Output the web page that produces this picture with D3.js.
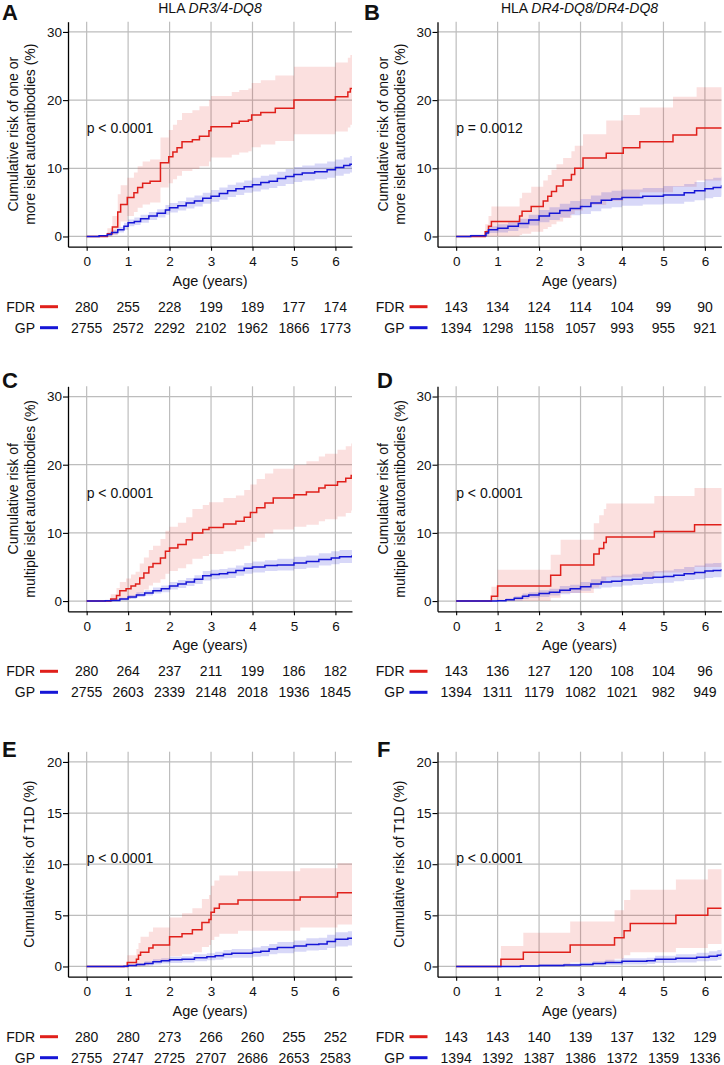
<!DOCTYPE html>
<html>
<head>
<meta charset="utf-8">
<script src="https://cdn.jsdelivr.net/npm/d3@7"></script>
<style>
  body { margin: 0; background: #fff; }
  text { font-family: "Liberation Sans", Arial, sans-serif; fill: #111; }
</style>
</head>
<body>
<div id="chart"></div>
<script>
// ---- data: rows are [age, estimate, lower CI, upper CI] (%)
var fdrA = [[0,0,0,0],[0.50,0.4,0,1.2],[0.62,1.4,0.2,3.0],[0.75,3.6,1.4,6.2],[0.82,4.7,2.2,7.5],[0.98,5.7,3.0,8.6],
  [1.14,6.4,3.6,9.4],[1.23,7.2,4.2,10.3],[1.35,7.8,4.7,11.0],[1.53,8.1,5.0,11.3],[1.78,10.8,7.2,14.5],[1.98,11.7,7.8,15.6],
  [2.08,12.4,8.4,16.4],[2.18,13.0,8.9,17.1],[2.30,13.9,9.6,18.1],[2.55,14.2,9.9,18.5],[2.72,14.7,10.3,19.1],[2.95,15.5,11.0,20.0],
  [3.00,16.1,11.6,20.6],[3.50,16.6,12.0,21.2],[3.68,16.9,12.3,21.5],[3.90,17.1,12.5,21.7],[3.98,17.8,13.1,22.5],[4.20,18.2,13.5,22.9],
  [4.55,18.8,14.0,23.6],[5.00,20.0,15.0,24.9],[6.00,20.5,15.4,25.5],[6.30,21.2,16.0,26.2],[6.36,21.7,16.4,26.6],[6.45,21.7,16.4,26.6]];
var gpA = [[0,0,0,0],[0.30,0.1,0,0.2],[0.50,0.3,0.1,0.6],[0.60,0.6,0.3,0.9],[0.75,1.0,0.6,1.4],[0.90,1.5,1.0,2.0],[1.00,2.0,1.5,2.5],
  [1.15,2.2,1.7,2.8],[1.30,2.6,2.0,3.2],[1.50,3.0,2.4,3.6],[1.70,3.4,2.8,4.0],[1.90,3.9,3.2,4.6],[2.00,4.2,3.5,4.9],[2.20,4.5,3.8,5.2],
  [2.40,4.9,4.1,5.7],[2.60,5.2,4.4,6.0],[2.80,5.6,4.8,6.4],[3.00,5.9,5.1,6.8],[3.20,6.3,5.4,7.2],[3.40,6.7,5.8,7.6],[3.60,7.0,6.1,7.9],
  [3.80,7.3,6.4,8.2],[4.00,7.6,6.6,8.6],[4.20,7.9,6.9,8.9],[4.40,8.1,7.1,9.1],[4.60,8.5,7.4,9.5],[4.80,8.8,7.7,9.9],[5.00,9.1,8.0,10.2],
  [5.20,9.3,8.2,10.4],[5.50,9.5,8.4,10.7],[5.80,9.8,8.6,11.0],[6.00,10.1,8.9,11.3],[6.20,10.4,9.2,11.6],[6.35,10.6,9.4,11.8],[6.45,10.6,9.4,11.8]];
var fdrB = [[0,0,0,0],[0.70,0.7,0,1.8],[0.78,1.5,0,3.0],[0.85,2.2,0,4.4],[1.53,3.0,0.2,5.6],[1.59,3.7,0.4,6.4],[1.81,4.4,0.7,7.3],
  [2.10,5.2,1.1,8.2],[2.21,5.9,1.4,9.0],[2.30,6.6,1.8,9.8],[2.42,7.4,2.2,10.6],[2.58,8.3,2.7,11.5],[2.78,9.1,3.3,12.5],[2.86,10.0,3.8,13.3],
  [3.06,11.5,4.6,15.0],[3.62,12.2,5.2,17.0],[4.03,13.0,5.8,17.8],[4.43,13.9,6.5,18.9],[5.23,14.9,7.3,20.5],[5.80,15.9,8.2,21.9],[6.45,15.9,8.2,21.9]];
var gpB = [[0,0,0,0],[0.35,0.1,0,0.3],[0.72,0.5,0.1,0.9],[0.78,1.0,0.5,1.5],[1.00,1.2,0.6,1.8],[1.25,1.5,0.8,2.1],[1.50,1.9,1.2,2.6],
  [1.75,2.4,1.6,3.2],[2.00,3.0,2.1,3.9],[2.25,3.4,2.4,4.3],[2.50,3.8,2.8,4.8],[2.75,4.1,3.1,5.2],[3.00,4.4,3.3,5.5],[3.25,4.9,3.7,6.0],
  [3.50,5.3,4.1,6.5],[3.75,5.5,4.3,6.7],[4.00,5.7,4.5,6.9],[4.50,5.9,4.7,7.1],[5.00,6.1,4.8,7.4],[5.50,6.4,5.1,7.7],[5.75,6.7,5.3,8.0],
  [6.00,7.0,5.6,8.4],[6.20,7.2,5.8,8.6],[6.40,7.4,6.0,8.8],[6.45,7.4,6.0,8.8]];
var fdrC = [[0,0,0,0],[0.58,0.3,0,1.0],[0.72,0.8,0,1.9],[0.80,1.5,0.2,2.8],[0.95,1.8,0.3,3.3],[1.07,2.2,0.5,3.9],[1.18,2.5,0.7,4.3],
  [1.28,3.4,1.2,5.5],[1.38,4.1,1.7,6.4],[1.50,5.0,2.3,7.5],[1.60,5.5,2.7,8.1],[1.78,6.3,3.2,9.1],[1.90,7.3,4.0,10.3],[2.00,7.8,4.4,10.9],
  [2.20,8.3,4.8,11.5],[2.40,9.0,5.4,12.3],[2.55,10.0,6.2,13.5],[2.80,10.5,6.6,14.1],[2.95,10.8,6.9,14.5],[3.30,11.3,7.3,15.1],
  [3.60,11.7,7.6,15.5],[3.80,12.3,8.1,16.3],[3.95,13.0,8.7,17.1],[4.10,13.7,9.3,17.9],[4.30,14.4,9.9,18.7],[4.50,15.1,10.5,19.4],
  [5.00,15.6,10.9,20.0],[5.30,16.0,11.2,20.5],[5.60,16.6,11.7,21.2],[5.75,17.0,12.0,21.6],[6.05,17.5,12.4,22.2],[6.25,18.0,12.9,22.7],
  [6.38,18.4,13.3,23.1],[6.45,18.4,13.3,23.1]];
var gpC = [[0,0,0,0],[0.45,0.05,0,0.2],[0.60,0.1,0,0.3],[0.80,0.3,0.1,0.5],[1.00,0.6,0.3,0.9],[1.20,0.9,0.6,1.3],[1.40,1.2,0.8,1.6],
  [1.60,1.5,1.1,2.0],[1.80,1.8,1.3,2.3],[2.00,2.2,1.7,2.8],[2.20,2.5,1.9,3.1],[2.40,2.8,2.2,3.4],[2.60,3.2,2.5,3.8],[2.80,3.7,3.0,4.4],
  [3.00,3.9,3.2,4.6],[3.20,4.0,3.3,4.7],[3.40,4.2,3.4,4.9],[3.60,4.5,3.7,5.2],[3.80,4.8,4.0,5.6],[4.00,5.0,4.2,5.8],[4.30,5.2,4.4,6.0],
  [4.60,5.3,4.5,6.2],[5.00,5.6,4.7,6.5],[5.30,5.8,4.9,6.7],[5.60,6.1,5.2,7.0],[5.90,6.3,5.4,7.3],[6.10,6.5,5.6,7.5],[6.40,6.6,5.7,7.6],
  [6.45,6.6,5.7,7.6]];
var fdrD = [[0,0,0,0],[0.85,0.7,0,2.1],[1.00,2.2,0,4.6],[2.28,3.8,0.5,6.8],[2.52,5.3,1.2,9.0],[3.32,6.9,2.0,11.4],[3.45,7.7,2.5,12.6],
  [3.56,8.6,3.0,13.5],[3.62,9.4,3.5,14.3],[4.78,10.2,4.2,15.4],[5.75,11.2,5.0,16.6],[6.45,11.2,5.0,16.6]];
var gpD = [[0,0,0,0],[1.00,0.05,0,0.2],[1.20,0.2,0,0.4],[1.40,0.4,0.1,0.7],[1.60,0.7,0.3,1.1],[1.75,0.9,0.5,1.3],[2.00,1.1,0.6,1.6],
  [2.25,1.3,0.8,1.8],[2.50,1.6,1.0,2.2],[2.75,1.8,1.2,2.4],[3.00,2.1,1.5,2.8],[3.25,2.5,1.8,3.2],[3.50,2.8,2.0,3.6],[3.75,2.9,2.1,3.7],
  [4.00,3.1,2.3,3.9],[4.25,3.2,2.4,4.0],[4.50,3.4,2.5,4.3],[4.75,3.5,2.6,4.4],[5.00,3.6,2.7,4.5],[5.25,3.8,2.9,4.7],[5.50,4.0,3.1,5.0],
  [5.75,4.2,3.2,5.2],[6.00,4.4,3.4,5.5],[6.20,4.5,3.5,5.6],[6.40,4.6,3.6,5.7],[6.45,4.6,3.6,5.7]];
var fdrE = [[0,0,0,0],[0.98,0.4,0,1.1],[1.20,0.7,0,1.7],[1.25,1.1,0,2.3],[1.30,1.4,0.1,2.9],[1.50,1.8,0.3,3.4],[1.60,2.1,0.5,3.8],
  [2.00,2.9,1.0,4.8],[2.30,3.2,1.2,5.2],[2.55,3.6,1.4,5.7],[2.78,4.3,1.9,6.6],[2.95,4.6,2.1,7.0],[3.00,5.3,2.6,7.9],[3.08,5.7,2.9,8.4],
  [3.20,6.1,3.2,8.9],[3.65,6.5,3.5,9.3],[5.15,6.8,3.8,9.6],[6.05,7.2,4.1,10.1],[6.45,7.2,4.1,10.1]];
var gpE = [[0,0,0,0],[0.90,0.03,0,0.1],[1.00,0.1,0,0.2],[1.20,0.2,0.05,0.35],[1.40,0.3,0.1,0.5],[1.60,0.45,0.2,0.7],[1.80,0.55,0.3,0.8],
  [2.00,0.65,0.35,0.95],[2.30,0.7,0.4,1.0],[2.60,0.85,0.5,1.2],[2.90,0.95,0.6,1.3],[3.10,1.05,0.65,1.45],[3.30,1.2,0.8,1.6],
  [3.50,1.3,0.85,1.7],[4.00,1.4,0.95,1.85],[4.20,1.5,1.0,2.0],[4.40,1.7,1.2,2.2],[4.60,1.85,1.3,2.4],[5.00,2.0,1.45,2.55],
  [5.30,2.15,1.55,2.75],[5.60,2.2,1.6,2.8],[5.80,2.45,1.8,3.1],[6.00,2.65,1.95,3.35],[6.30,2.75,2.05,3.45],[6.45,2.8,2.1,3.5]];
var fdrF = [[0,0,0,0],[1.08,0.7,0,2.0],[1.62,1.4,0.1,3.3],[2.75,2.1,0.4,4.4],[3.82,2.8,0.75,5.5],[4.05,3.5,1.1,6.5],[4.20,4.2,1.4,7.5],
  [5.30,5.0,1.8,8.5],[6.07,5.7,2.2,9.5],[6.45,5.7,2.2,9.5]];
var gpF = [[0,0,0,0],[1.55,0.05,0,0.15],[2.00,0.1,0,0.25],[2.60,0.15,0.02,0.3],[3.00,0.2,0.05,0.4],[3.30,0.3,0.1,0.5],[3.60,0.4,0.15,0.65],
  [4.00,0.5,0.2,0.8],[4.60,0.55,0.25,0.85],[4.80,0.7,0.35,1.05],[5.30,0.8,0.4,1.2],[5.80,0.9,0.5,1.35],[6.10,1.0,0.55,1.5],
  [6.30,1.1,0.65,1.6],[6.40,1.2,0.7,1.75],[6.45,1.2,0.7,1.75]];

// numbers at risk at ages 0..6
var ageTicks = [0, 1, 2, 3, 4, 5, 6];
var nFdrA = [280, 255, 228, 199, 189, 177, 174], nGpA = [2755, 2572, 2292, 2102, 1962, 1866, 1773];
var nFdrB = [143, 134, 124, 114, 104, 99, 90],   nGpB = [1394, 1298, 1158, 1057, 993, 955, 921];
var nFdrC = [280, 264, 237, 211, 199, 186, 182], nGpC = [2755, 2603, 2339, 2148, 2018, 1936, 1845];
var nFdrD = [143, 136, 127, 120, 108, 104, 96],  nGpD = [1394, 1311, 1179, 1082, 1021, 982, 949];
var nFdrE = [280, 280, 273, 266, 260, 255, 252], nGpE = [2755, 2747, 2725, 2707, 2686, 2653, 2583];
var nFdrF = [143, 143, 140, 139, 137, 132, 129], nGpF = [1394, 1392, 1387, 1386, 1372, 1359, 1336];

var yTicks30 = [0, 10, 20, 30], yTicks20 = [0, 5, 10, 15, 20];
var labOne = ["Cumulative risk of one or", "more islet autoantibodies (%)"];
var labMulti = ["Cumulative risk of", "multiple islet autoantibodies (%)"];
var labT1D = ["Cumulative risk of T1D (%)"];

var red = "#e0201b", blue = "#1616d6";

// layout (pixels)
var colX = [68, 437.5], rowTop = [21.7, 386.3, 751.7];
var width = 284, height = 225;

var panels = [
  {letter: "A", lx: 2,   col: 0, row: 0, fdr: fdrA, gp: gpA, nFdr: nFdrA, nGp: nGpA, ticks: yTicks30, ymax: 30, lab: labOne, p: "p < 0.0001", title: "DR3/4-DQ8"},
  {letter: "B", lx: 364, col: 1, row: 0, fdr: fdrB, gp: gpB, nFdr: nFdrB, nGp: nGpB, ticks: yTicks30, ymax: 30, lab: labOne, p: "p = 0.0012", title: "DR4-DQ8/DR4-DQ8"},
  {letter: "C", lx: 2,   col: 0, row: 1, fdr: fdrC, gp: gpC, nFdr: nFdrC, nGp: nGpC, ticks: yTicks30, ymax: 30, lab: labMulti, p: "p < 0.0001"},
  {letter: "D", lx: 377, col: 1, row: 1, fdr: fdrD, gp: gpD, nFdr: nFdrD, nGp: nGpD, ticks: yTicks30, ymax: 30, lab: labMulti, p: "p < 0.0001"},
  {letter: "E", lx: 2,   col: 0, row: 2, fdr: fdrE, gp: gpE, nFdr: nFdrE, nGp: nGpE, ticks: yTicks20, ymax: 20, lab: labT1D, p: "p < 0.0001"},
  {letter: "F", lx: 377, col: 1, row: 2, fdr: fdrF, gp: gpF, nFdr: nFdrF, nGp: nGpF, ticks: yTicks20, ymax: 20, lab: labT1D, p: "p < 0.0001"}
];
var letterY = [20, 388, 757];

var svg = d3.select("#chart")
  .append("svg")
    .attr("width", 724)
    .attr("height", 1065);

panels.forEach(function(pn, i) {
  var ox = colX[pn.col], oy = rowTop[pn.row];
  var g = svg.append("g").attr("transform", "translate(" + ox + "," + oy + ")");

  var x = d3.scaleLinear().domain([-0.45, 6.4]).range([0, width]);
  var pad = pn.ymax * 0.05;
  var y = d3.scaleLinear().domain([-pad, pn.ymax + pad]).range([height, 0]);

  // grid
  g.selectAll(".gx").data(ageTicks).enter().append("line")
    .attr("x1", function(d) { return x(d); }).attr("x2", function(d) { return x(d); })
    .attr("y1", 0).attr("y2", height)
    .style("stroke", "#bdbdbd").style("stroke-width", 1.2);
  g.selectAll(".gy").data(pn.ticks).enter().append("line")
    .attr("x1", 0).attr("x2", width)
    .attr("y1", function(d) { return y(d); }).attr("y2", function(d) { return y(d); })
    .style("stroke", "#bdbdbd").style("stroke-width", 1.2);

  g.append("clipPath").attr("id", "clip" + i)
    .append("rect").attr("width", width).attr("height", height);
  var plot = g.append("g").attr("clip-path", "url(#clip" + i + ")");

  var band = d3.area().curve(d3.curveStepAfter)
    .x(function(d) { return x(d[0]); })
    .y0(function(d) { return y(d[2]); })
    .y1(function(d) { return y(d[3]); });
  var line = d3.line().curve(d3.curveStepAfter)
    .x(function(d) { return x(d[0]); })
    .y(function(d) { return y(d[1]); });

  plot.append("path").attr("d", band(pn.fdr)).style("fill", red).style("fill-opacity", 0.14);
  plot.append("path").attr("d", band(pn.gp)).style("fill", blue).style("fill-opacity", 0.17);
  plot.append("path").attr("d", line(pn.fdr)).style("fill", "none").style("stroke", red).style("stroke-width", 1.5);
  plot.append("path").attr("d", line(pn.gp)).style("fill", "none").style("stroke", blue).style("stroke-width", 1.5);

  // axes
  var ya = g.append("g").call(d3.axisLeft(y).tickValues(pn.ticks).tickFormat(d3.format("d"))
    .tickSize(5).tickSizeOuter(0).tickPadding(1));
  var xa = g.append("g").attr("transform", "translate(0," + height + ")")
    .call(d3.axisBottom(x).tickValues(ageTicks).tickFormat(d3.format("d"))
      .tickSize(4).tickSizeOuter(0).tickPadding(6));
  [ya, xa].forEach(function(a) {
    a.select(".domain").style("stroke", "#000").style("stroke-width", 1.3);
    a.selectAll(".tick line").style("stroke", "#000").style("stroke-width", 1.1);
    a.selectAll("text").style("font-size", "13.5px").style("font-family", "'Liberation Sans', Arial, sans-serif").style("fill", "#111");
  });

  // y title
  var ly = pn.lab.length == 2 ? [-50, -33] : [-34];
  pn.lab.forEach(function(t, k) {
    g.append("text")
      .attr("transform", "translate(" + ly[k] + "," + (height / 2) + ") rotate(-90)")
      .attr("text-anchor", "middle")
      .style("font-size", "14px")
      .text(t);
  });

  g.append("text").attr("x", width / 2).attr("y", height + 39)
    .attr("text-anchor", "middle").style("font-size", "14.5px").text("Age (years)");

  g.append("text").attr("x", x(0)).attr("y", y(pn.ymax * 0.53)).attr("dy", "0.35em")
    .style("font-size", "14px").text(pn.p);

  if (pn.title) {
    var tt = g.append("text").attr("x", width / 2).attr("y", -8.7)
      .attr("text-anchor", "middle").style("font-size", "14px");
    tt.append("tspan").text("HLA ");
    tt.append("tspan").style("font-style", "italic").text(pn.title);
  }

  svg.append("text").attr("x", pn.lx).attr("y", letterY[pn.row])
    .style("font-size", "22px").style("font-weight", "bold").text(pn.letter);

  // numbers at risk
  var rows = [["FDR", pn.nFdr, red, height + 65], ["GP", pn.nGp, blue, height + 86]];
  rows.forEach(function(r) {
    g.append("text").attr("x", -33).attr("y", r[3]).attr("text-anchor", "end")
      .style("font-size", "14px").text(r[0]);
    g.append("line").attr("x1", -28).attr("x2", -10).attr("y1", r[3] - 5).attr("y2", r[3] - 5)
      .style("stroke", r[2]).style("stroke-width", 3);
    g.selectAll(null).data(r[1]).enter().append("text")
      .attr("x", function(d, j) { return x(ageTicks[j]); })
      .attr("y", r[3])
      .attr("text-anchor", "middle")
      .style("font-size", "14px")
      .text(function(d) { return d; });
  });
});
</script>
</body>
</html>
